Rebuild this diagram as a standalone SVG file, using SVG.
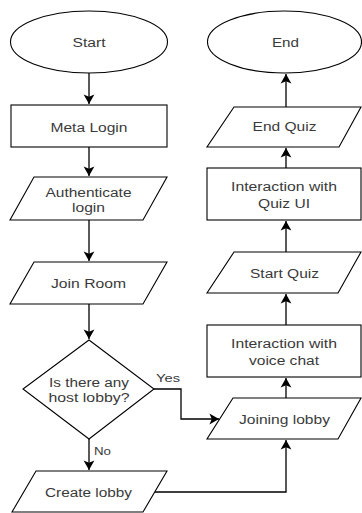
<svg xmlns="http://www.w3.org/2000/svg" width="362" height="513" viewBox="0 0 362 513">
<style>
.s{fill:#fff;stroke:#000;stroke-width:1.1}
.t{font-family:"Liberation Sans",Arial,sans-serif;font-size:12.5px;fill:#3a3a3a;text-anchor:middle}
.l{font-family:"Liberation Sans",Arial,sans-serif;font-size:11px;fill:#3a3a3a}
.c{fill:none;stroke:#000;stroke-width:1.3;marker-end:url(#a)}
</style>
<defs>
<marker id="a" markerUnits="userSpaceOnUse" markerWidth="12" markerHeight="12" viewBox="-9 -5 10 10" refX="0" refY="0" orient="auto">
<path d="M-8,-4.5 L0,0 L-8,4.5 L-6,0 z" fill="#000"/>
</marker>
</defs>
<rect width="362" height="513" fill="#fff"/>
<g id="connectors">
<path class="c" d="M89,73 V104"/>
<path class="c" d="M89,147 V176"/>
<path class="c" d="M89,220 V261"/>
<path class="c" d="M89,304 V339"/>
<path class="c" d="M89,439 V470"/>
<path class="c" d="M154,389 H181 V419 H219"/>
<path class="c" d="M155,492 H286 V440"/>
<path class="c" d="M286,398 V378"/>
<path class="c" d="M286,325 V294"/>
<path class="c" d="M286,252 V221"/>
<path class="c" d="M286,168 V148"/>
<path class="c" d="M286,107 V74"/>
<text class="l" x="156" y="382" textLength="24" lengthAdjust="spacingAndGlyphs">Yes</text>
<text class="l" x="94" y="455" textLength="17" lengthAdjust="spacingAndGlyphs">No</text>
</g>
<g id="start">
<ellipse class="s" cx="89" cy="42" rx="78.5" ry="31"/>
<text class="t" x="89" y="46.5" textLength="33" lengthAdjust="spacingAndGlyphs">Start</text>
</g>
<g id="meta-login">
<rect class="s" x="11" y="105" width="156" height="42"/>
<text class="t" x="89" y="131.5" textLength="77" lengthAdjust="spacingAndGlyphs">Meta Login</text>
</g>
<g id="authenticate-login">
<polygon class="s" points="34,177 167,177 143,220 10,220"/>
<text class="t" x="88.5" y="196.5" textLength="86" lengthAdjust="spacingAndGlyphs">Authenticate</text>
<text class="t" x="88.5" y="211.5" textLength="33" lengthAdjust="spacingAndGlyphs">login</text>
</g>
<g id="join-room">
<polygon class="s" points="34,262 167,262 143,304 10,304"/>
<text class="t" x="88.5" y="287.5" textLength="75" lengthAdjust="spacingAndGlyphs">Join Room</text>
</g>
<g id="host-lobby">
<polygon class="s" points="89,340 154,389 89,439 23,389"/>
<text class="t" x="89" y="386.5" textLength="80" lengthAdjust="spacingAndGlyphs">Is there any</text>
<text class="t" x="89" y="401.5" textLength="81" lengthAdjust="spacingAndGlyphs">host lobby?</text>
</g>
<g id="create-lobby">
<polygon class="s" points="36,471 167,471 143,512 12,512"/>
<text class="t" x="88.5" y="496.5" textLength="87" lengthAdjust="spacingAndGlyphs">Create lobby</text>
</g>
<g id="joining-lobby">
<polygon class="s" points="233,398 361,398 338,439 207,439"/>
<text class="t" x="284.5" y="423.5" textLength="91" lengthAdjust="spacingAndGlyphs">Joining lobby</text>
</g>
<g id="voice-chat">
<rect class="s" x="207" y="325" width="154" height="52"/>
<text class="t" x="284" y="347.5" textLength="106" lengthAdjust="spacingAndGlyphs">Interaction with</text>
<text class="t" x="284" y="364.5" textLength="70" lengthAdjust="spacingAndGlyphs">voice chat</text>
</g>
<g id="start-quiz">
<polygon class="s" points="234,252 361,252 338,293 207,293"/>
<text class="t" x="284.5" y="277.5" textLength="69" lengthAdjust="spacingAndGlyphs">Start Quiz</text>
</g>
<g id="quiz-ui">
<rect class="s" x="207" y="168" width="154" height="52"/>
<text class="t" x="284" y="190.5" textLength="106" lengthAdjust="spacingAndGlyphs">Interaction with</text>
<text class="t" x="284" y="207.5" textLength="52" lengthAdjust="spacingAndGlyphs">Quiz UI</text>
</g>
<g id="end-quiz">
<polygon class="s" points="234,107 361,107 339,147 207,147"/>
<text class="t" x="284.5" y="130.5" textLength="64" lengthAdjust="spacingAndGlyphs">End Quiz</text>
</g>
<g id="end">
<ellipse class="s" cx="284.5" cy="42" rx="77" ry="31"/>
<text class="t" x="285.5" y="46.5" textLength="27" lengthAdjust="spacingAndGlyphs">End</text>
</g>
</svg>
